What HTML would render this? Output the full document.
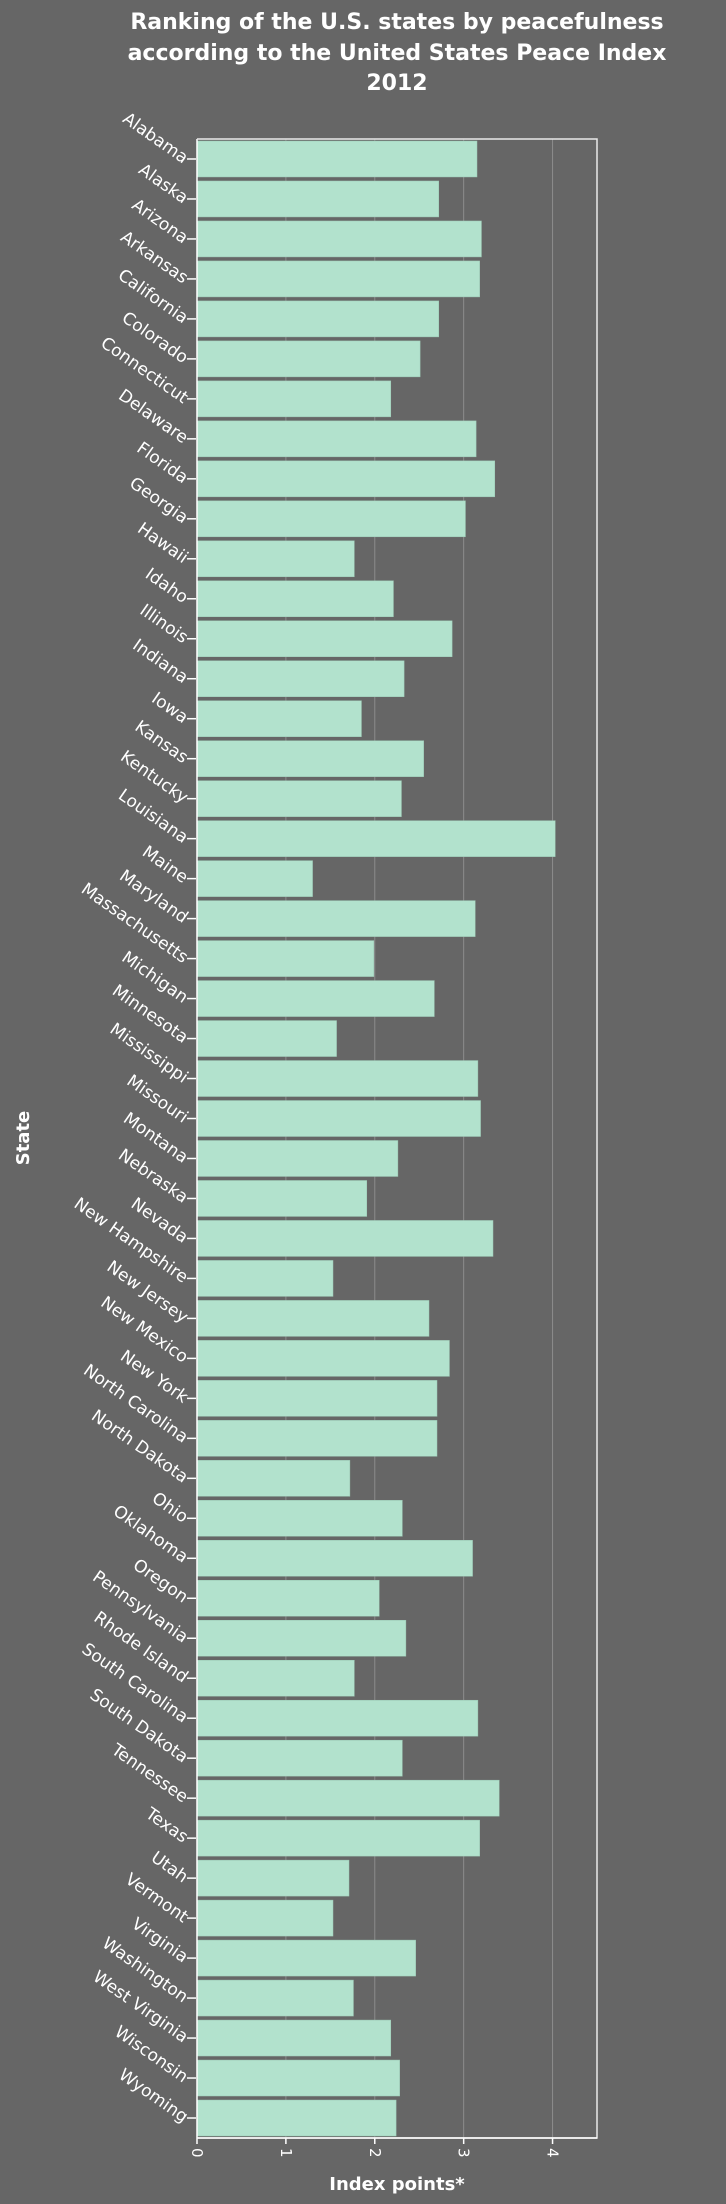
<!DOCTYPE html>
<html><head><meta charset="utf-8"><style>
html,body{margin:0;padding:0;background:#666666;}
svg{display:block;font-family:"DejaVu Sans","Liberation Sans",sans-serif;}
</style></head><body>
<svg id="chart" width="726" height="2204" xmlns="http://www.w3.org/2000/svg">
<rect width="726" height="2204" fill="#666666"/>
<g fill="#fff" font-weight="bold" font-size="22" text-anchor="middle">
<text x="397" y="29">Ranking of the U.S. states by peacefulness</text>
<text x="397" y="60">according to the United States Peace Index</text>
<text x="397" y="90">2012</text>
</g>
<g id="grid"></g>
<g id="bars"></g>
<g id="yaxis"></g>
<g id="xaxis"></g>
<text x="397" y="2190" fill="#fff" font-weight="bold" font-size="18" text-anchor="middle">Index points*</text>
<text transform="translate(29,1138) rotate(-90)" fill="#fff" font-weight="bold" font-size="18" text-anchor="middle">State</text>
</svg>
<script>
const states = ["Alabama","Alaska","Arizona","Arkansas","California","Colorado","Connecticut","Delaware","Florida","Georgia","Hawaii","Idaho","Illinois","Indiana","Iowa","Kansas","Kentucky","Louisiana","Maine","Maryland","Massachusetts","Michigan","Minnesota","Mississippi","Missouri","Montana","Nebraska","Nevada","New Hampshire","New Jersey","New Mexico","New York","North Carolina","North Dakota","Ohio","Oklahoma","Oregon","Pennsylvania","Rhode Island","South Carolina","South Dakota","Tennessee","Texas","Utah","Vermont","Virginia","Washington","West Virginia","Wisconsin","Wyoming"];
const values = [3.15,2.72,3.20,3.18,2.72,2.51,2.18,3.14,3.35,3.02,1.77,2.21,2.87,2.33,1.85,2.55,2.30,4.03,1.30,3.13,1.99,2.67,1.57,3.16,3.19,2.26,1.91,3.33,1.53,2.61,2.84,2.70,2.70,1.72,2.31,3.10,2.05,2.35,1.77,3.16,2.31,3.40,3.18,1.71,1.53,2.46,1.76,2.18,2.28,2.24];
const xTicks = [0,1,2,3,4];
const xMax = 4.5;

const NS = "http://www.w3.org/2000/svg";
const L = 197, R = 597, T = 139, B = 2138;
const band = (B - T) / states.length;
const xs = v => L + (v / xMax) * (R - L);
const yc = i => T + band * i + band / 2;
function mk(tag, attrs, parent){const e=document.createElementNS(NS,tag);for(const k in attrs)e.setAttribute(k,attrs[k]);parent.appendChild(e);return e;}
const grid=document.getElementById('grid'),bars=document.getElementById('bars'),ya=document.getElementById('yaxis'),xa=document.getElementById('xaxis');
xTicks.forEach(t=>{
  if(t>0){const g=mk('line',{x1:xs(t),x2:xs(t),y1:T,y2:B,stroke:'#8c8c8c','stroke-width':1},grid);
  
  }
  const tk=mk('line',{x1:xs(t),x2:xs(t),y1:B,y2:B+6,stroke:'#fff','stroke-width':1.5},xa);
  
  
  const lb=mk('text',{transform:`translate(${xs(t)-5},${B+10}) rotate(90)`,fill:'#fff','font-size':15},xa);
  lb.textContent=t;
  
  
});
states.forEach((s,i)=>{
  const r=mk('rect',{x:L,y:T+band*i+2,width:xs(values[i])-L,height:band-4,fill:'#b2e2cd',stroke:'#9cc9b5','stroke-width':0.5},bars);
  
  
  const tk=mk('line',{x1:L-10,x2:L-1,y1:yc(i),y2:yc(i),stroke:'#fff','stroke-width':1.5},ya);
  
  
  const lb=mk('text',{transform:`translate(${L-14},${yc(i)+5}) rotate(35)`,fill:'#fff','font-size':17,'text-anchor':'end'},ya);
  lb.textContent=s;
  
  
});
const fr=mk('path',{d:`M${L},${T}H${R}V${B}H${L}`,fill:'none',stroke:'#e8e8e8','stroke-width':1.5},xa);


const ax=mk('line',{x1:L,x2:L,y1:T,y2:B,stroke:'#fff','stroke-width':1.5},ya);


const bx=mk('line',{x1:L,x2:R,y1:B,y2:B,stroke:'#fff','stroke-width':1.5},xa);


</script>
</body></html>
